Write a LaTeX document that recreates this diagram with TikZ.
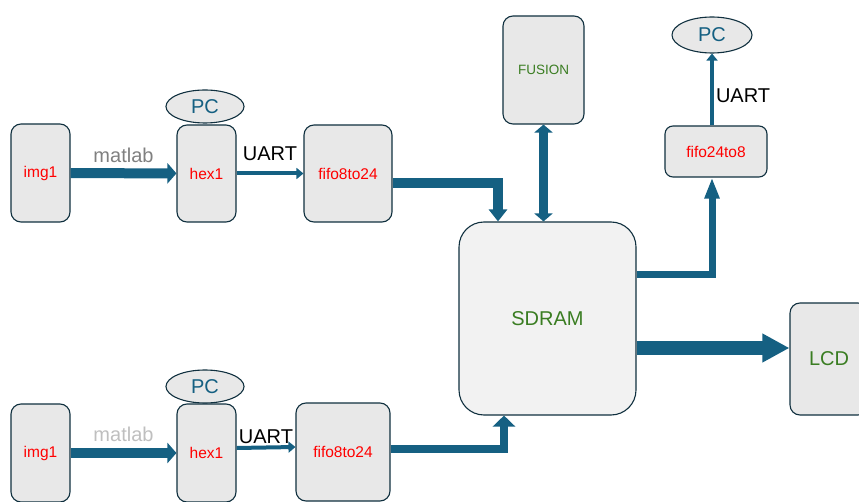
\documentclass[tikz,border=0pt]{standalone}
\usepackage{fontspec}
\setmainfont{Liberation Sans}
\usetikzlibrary{arrows.meta, shapes.geometric}
\definecolor{arrowblue}{HTML}{156082}
\definecolor{boxline}{HTML}{10303F}
\definecolor{boxfill}{HTML}{E8E8E8}
\definecolor{ramfill}{HTML}{F2F2F2}
\definecolor{textgreen}{HTML}{3A7D22}

\begin{document}
\begin{tikzpicture}[
        x=1pt, y=1pt,
        box/.style={draw=boxline, line width=1.1pt, fill=boxfill, rounded corners=10pt, inner sep=0pt, font=\fontsize{15.5}{18}\selectfont, text=red},
        pc/.style={ellipse, draw=boxline, line width=1.1pt, fill=boxfill, inner sep=0pt, font=\fontsize{20}{24}\selectfont, text=arrowblue},
        lbl/.style={font=\fontsize{20}{24}\selectfont, inner sep=1pt},
        bigarr/.style={draw=arrowblue, line width=10pt, -{Triangle[length=9pt, width=20pt]}},
        smallarr/.style={draw=arrowblue, line width=4pt, -{Triangle[length=7pt, width=11pt]}},
        busarr/.style={draw=arrowblue, line join=miter, -{Triangle[length=11pt, width=19pt]}}
    ]
        \useasboundingbox (0,0) rectangle (859,501);

        % Upper input path
        \node[box, minimum width=59pt, minimum height=98pt] (imgA) at (40.5,328) {img1};
        \node[box, minimum width=59pt, minimum height=97pt] (hexA) at (206.5,327.5) {hex1};
        \node[pc, minimum width=78pt, minimum height=33pt] (pcA) at (205,394.5) {PC};
        \node[box, minimum width=88pt, minimum height=97pt] (fifoA) at (348,327.5) {fifo8to24};
        \draw[bigarr] (imgA) -- node[lbl, above=5pt, text=black!50] {matlab} (hexA);
        \draw[smallarr] (hexA) -- node[lbl, above=10pt] {UART} (fifoA);

        % Lower input path
        \node[box, minimum width=59pt, minimum height=98pt] (imgB) at (40.5,48) {img1};
        \node[box, minimum width=59pt, minimum height=98pt] (hexB) at (206.5,48) {hex1};
        \node[pc, minimum width=78pt, minimum height=33pt] (pcB) at (205,114.5) {PC};
        \node[box, minimum width=94pt, minimum height=98pt] (fifoB) at (343,49) {fifo8to24};
        \draw[bigarr] (imgB) -- node[lbl, above=5pt, text=black!25] {matlab} (hexB);
        \draw[smallarr] ([yshift=5pt]hexB.east) -- node[lbl, above=1pt] {UART} ([yshift=5pt]fifoB.west);

        % Memory and fusion
        \node[box, fill=ramfill, rounded corners=25pt, minimum width=177pt, minimum height=193pt, font=\fontsize{20}{24}\selectfont, text=textgreen] (sdram) at (547.5,182.5) {SDRAM};
        \node[box, minimum width=81pt, minimum height=108pt, font=\fontsize{13.5}{16}\selectfont, text=textgreen] (fusion) at (543.5,431) {FUSION};
        \draw[busarr, line width=10pt, -{Triangle[length=12pt, width=18pt]}] ([yshift=-9.5pt]fifoA.east) -| ([xshift=-49.5pt]sdram.north);
        \draw[draw=arrowblue, line width=9pt, {Triangle[length=8pt, width=18pt]}-{Triangle[length=8pt, width=18pt]}] (fusion.south) -- (fusion.south |- sdram.north);
        \draw[busarr, line width=8pt, -{Triangle[length=11pt, width=22pt]}] ([yshift=3pt]fifoB.east) -| ([xshift=-43.5pt]sdram.south);

        % Output to PC
        \node[box, rounded corners=8pt, minimum width=102pt, minimum height=51pt] (fifoC) at (716,349.5) {fifo24to8};
        \node[pc, minimum width=80pt, minimum height=36pt] (pcC) at (712,466) {PC};
        \draw[busarr, line width=7pt, -{Triangle[length=21pt, width=14pt]}] ([yshift=43.5pt]sdram.east) -| ([xshift=-4pt]fifoC.south);
        \draw[smallarr, -{Triangle[length=7pt, width=11pt]}] ([xshift=-4pt]fifoC.north) -- node[lbl, right=1pt, pos=0.41] {UART} (pcC.south);

        % Display
        \node[box, minimum width=78pt, minimum height=112pt, font=\fontsize{20}{24}\selectfont, text=textgreen] (lcd) at (829,142) {LCD};
        \draw[draw=arrowblue, line width=13pt, -{Triangle[length=27pt, width=27pt]}] ([yshift=-29.5pt]sdram.east) -- ([yshift=11pt]lcd.west);
\end{tikzpicture}
\end{document}
